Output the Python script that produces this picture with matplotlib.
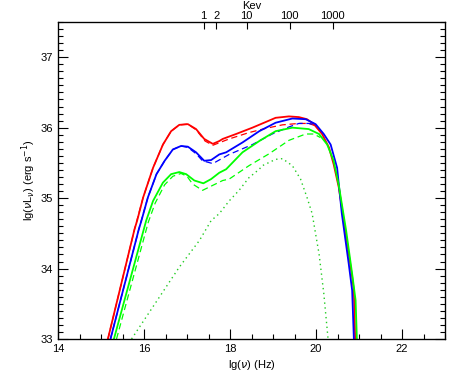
import numpy as np
import matplotlib
matplotlib.use('Agg')
import matplotlib.pyplot as plt
from matplotlib.ticker import MultipleLocator

# spectra: lg(nu) [Hz] vs lg(nu L_nu) [erg/s]
red_x = [15.16, 15.78, 15.84, 15.98, 16.21, 16.44, 16.63, 16.82, 17.02, 17.21, 17.40, 17.60,
         17.75, 17.83, 18.14, 18.52, 18.83, 19.06, 19.37, 19.60, 19.79, 19.95, 20.14, 20.30,
         20.41, 20.53, 20.68, 20.84, 20.88, 20.91]
red_y = [33.0, 34.56, 34.68, 35.01, 35.43, 35.76, 35.95, 36.04, 36.05, 35.98, 35.84, 35.77,
         35.81, 35.84, 35.91, 36.0, 36.08, 36.14, 36.16, 36.15, 36.12, 36.05, 35.91, 35.72,
         35.48, 35.15, 34.54, 33.88, 33.69, 33.0]

red_dash_x = [15.16, 15.78, 15.98, 16.21, 16.44, 16.63, 16.82, 17.02, 17.21, 17.42, 17.60,
              17.98, 18.44, 18.83, 19.22, 19.60, 19.83, 19.97]
red_dash_y = [33.0, 34.56, 35.01, 35.43, 35.76, 35.95, 36.04, 36.05, 35.97, 35.81, 35.75,
              35.84, 35.93, 35.99, 36.04, 36.06, 36.06, 36.03]

blue_x = [15.22, 15.88, 15.94, 16.09, 16.29, 16.48, 16.67, 16.86, 17.02, 17.21, 17.40, 17.56,
          17.75, 17.91, 18.29, 18.68, 19.06, 19.45, 19.76, 19.99, 20.18, 20.34, 20.49, 20.60,
          20.76, 20.84, 20.88]
blue_y = [33.0, 34.56, 34.68, 35.01, 35.34, 35.53, 35.69, 35.74, 35.73, 35.65, 35.53, 35.54,
          35.62, 35.65, 35.79, 35.95, 36.07, 36.13, 36.12, 36.05, 35.91, 35.76, 35.43, 34.78,
          34.07, 33.69, 33.0]

blue_dash_x = [15.22, 15.88, 16.09, 16.29, 16.48, 16.67, 16.86, 17.02, 17.21, 17.36, 17.60,
               17.98, 18.52, 18.98, 19.37, 19.60, 19.83, 19.99]
blue_dash_y = [33.0, 34.56, 35.01, 35.34, 35.53, 35.69, 35.74, 35.72, 35.63, 35.53, 35.49,
               35.62, 35.76, 35.91, 36.01, 36.06, 36.06, 36.04]

green_x = [15.30, 16.05, 16.21, 16.44, 16.63, 16.82, 16.98, 17.17, 17.38, 17.56, 17.75, 17.91,
           18.29, 18.68, 19.06, 19.45, 19.83, 20.07, 20.26, 20.41, 20.53, 20.70, 20.85, 20.92,
           20.95]
green_y = [33.0, 34.68, 34.96, 35.22, 35.34, 35.37, 35.34, 35.25, 35.21, 35.27, 35.36, 35.41,
           35.65, 35.81, 35.95, 36.0, 35.98, 35.91, 35.76, 35.53, 35.18, 34.54, 33.88, 33.55,
           33.0]

green_dash_x = [15.36, 16.10, 16.26, 16.48, 16.67, 16.86, 17.00, 17.13, 17.36, 17.83, 17.98,
                18.44, 18.91, 19.37, 19.76, 19.95, 20.10]
green_dash_y = [33.0, 34.66, 34.93, 35.19, 35.31, 35.35, 35.31, 35.20, 35.11, 35.25, 35.27,
                35.46, 35.63, 35.82, 35.91, 35.91, 35.86]

green_dot_x = [15.71, 16.82, 17.29, 17.56, 17.75, 17.98, 18.21, 18.44, 18.68, 18.75, 19.06,
               19.22, 19.45, 19.64, 19.79, 19.91, 20.03, 20.07, 20.18, 20.28]
green_dot_y = [33.0, 34.02, 34.40, 34.68, 34.78, 34.96, 35.11, 35.29, 35.41, 35.46, 35.55,
               35.56, 35.46, 35.27, 35.01, 34.78, 34.35, 34.21, 33.65, 33.0]

kev_values = [1, 2, 10, 100, 1000]
kev_labels = ['1', '2', '10', '100', '1000']

plt.rcParams['font.family'] = ['Liberation Sans', 'DejaVu Sans']
plt.rcParams['mathtext.fontset'] = 'dejavusans'

fig = plt.figure(figsize=(4.63, 3.82), dpi=100)
ax = fig.add_axes([0.1253, 0.1126, 0.8359, 0.8298])

ax.plot(red_x, red_y, color='#ff0000', lw=1.3)
ax.plot(red_dash_x, red_dash_y, color='#ff0000', lw=0.9, ls=(0, (5, 3)))
ax.plot(blue_x, blue_y, color='#0000ff', lw=1.3)
ax.plot(blue_dash_x, blue_dash_y, color='#0000ff', lw=0.9, ls=(0, (5, 3)))
ax.plot(green_x, green_y, color='#00ff00', lw=1.3)
ax.plot(green_dash_x, green_dash_y, color='#00ff00', lw=0.9, ls=(0, (5, 3)))
ax.plot(green_dot_x, green_dot_y, color='#22cc22', lw=1.0, ls=(0, (1, 2.5)))

ax.set_xlim(14, 23)
ax.set_ylim(33, 37.5)
ax.set_xticks([14, 16, 18, 20, 22])
ax.xaxis.set_minor_locator(MultipleLocator(0.5))
ax.set_yticks([33, 34, 35, 36, 37])
ax.yaxis.set_minor_locator(MultipleLocator(0.1))
ax.tick_params(which='both', direction='in', top=True, right=True, labelsize=8, width=0.8)
ax.tick_params(which='major', length=7)
ax.tick_params(which='minor', length=3.5)
for s in ax.spines.values():
    s.set_linewidth(0.9)

ax.set_xlabel(r'lg($\nu$) (Hz)', fontsize=8, labelpad=3)
ax.set_ylabel(r'lg($\nu$L$_\nu$) (erg s$^{-1}$)', fontsize=8, labelpad=2)

# top axis in keV
ax2 = ax.twiny()
ax2.set_xlim(ax.get_xlim())
ax2.set_xticks([np.log10(e * 2.418e17) for e in kev_values])
ax2.set_xticklabels(kev_labels)
ax2.tick_params(direction='in', length=5, labelsize=8, pad=1, width=0.8)
ax2.set_xlabel('Kev', fontsize=8, labelpad=1)

fig.savefig('out.png', dpi=100)
